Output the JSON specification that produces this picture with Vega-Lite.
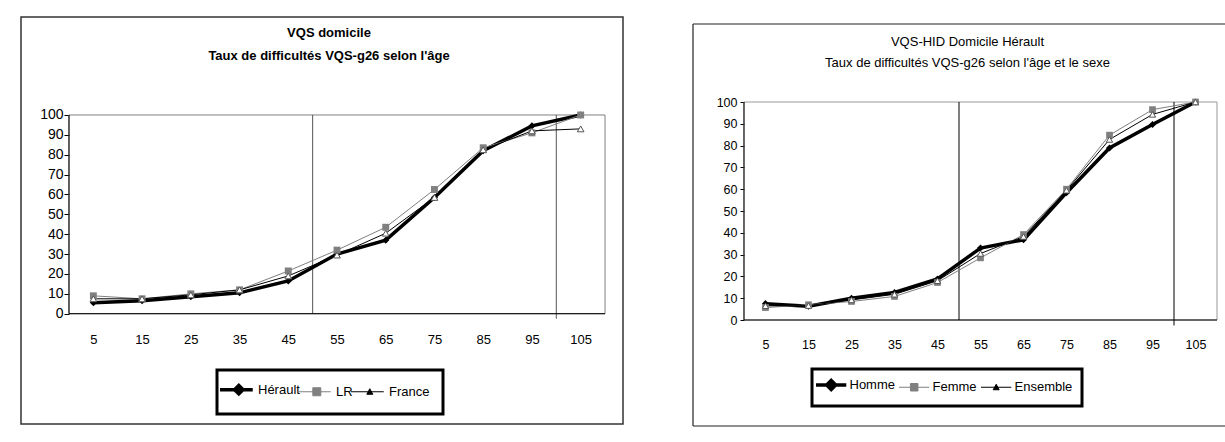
{
  "$schema": "https://vega.github.io/schema/vega-lite/v6.json",
  "background": "white",
  "padding": {"left": 20, "top": 16, "right": 0, "bottom": 0},
  "bounds": "flush",
  "spacing": 70,
  "resolve": {"scale": {"color": "independent"}, "legend": {"color": "independent"}},
  "datasets": {
    "gauche": [
      {"age": 5, "taux": 5.5, "serie": "Hérault"},
      {"age": 15, "taux": 6.5, "serie": "Hérault"},
      {"age": 25, "taux": 8.5, "serie": "Hérault"},
      {"age": 35, "taux": 10.5, "serie": "Hérault"},
      {"age": 45, "taux": 16.5, "serie": "Hérault"},
      {"age": 55, "taux": 30, "serie": "Hérault"},
      {"age": 65, "taux": 37, "serie": "Hérault"},
      {"age": 75, "taux": 58.5, "serie": "Hérault"},
      {"age": 85, "taux": 82, "serie": "Hérault"},
      {"age": 95, "taux": 94.5, "serie": "Hérault"},
      {"age": 105, "taux": 100, "serie": "Hérault"},
      {"age": 5, "taux": 9, "serie": "LR"},
      {"age": 15, "taux": 7.5, "serie": "LR"},
      {"age": 25, "taux": 10, "serie": "LR"},
      {"age": 35, "taux": 12, "serie": "LR"},
      {"age": 45, "taux": 21.5, "serie": "LR"},
      {"age": 55, "taux": 32, "serie": "LR"},
      {"age": 65, "taux": 43.5, "serie": "LR"},
      {"age": 75, "taux": 62.5, "serie": "LR"},
      {"age": 85, "taux": 83.5, "serie": "LR"},
      {"age": 95, "taux": 91, "serie": "LR"},
      {"age": 105, "taux": 100, "serie": "LR"},
      {"age": 5, "taux": 7.5, "serie": "France"},
      {"age": 15, "taux": 7.5, "serie": "France"},
      {"age": 25, "taux": 9.5, "serie": "France"},
      {"age": 35, "taux": 12, "serie": "France"},
      {"age": 45, "taux": 19, "serie": "France"},
      {"age": 55, "taux": 29.5, "serie": "France"},
      {"age": 65, "taux": 40.5, "serie": "France"},
      {"age": 75, "taux": 58.5, "serie": "France"},
      {"age": 85, "taux": 82.5, "serie": "France"},
      {"age": 95, "taux": 92, "serie": "France"},
      {"age": 105, "taux": 93, "serie": "France"}
    ],
    "droite": [
      {"age": 5, "taux": 7.5, "serie": "Homme"},
      {"age": 15, "taux": 6.3, "serie": "Homme"},
      {"age": 25, "taux": 10, "serie": "Homme"},
      {"age": 35, "taux": 12.6, "serie": "Homme"},
      {"age": 45, "taux": 18.8, "serie": "Homme"},
      {"age": 55, "taux": 33, "serie": "Homme"},
      {"age": 65, "taux": 36.8, "serie": "Homme"},
      {"age": 75, "taux": 58.4, "serie": "Homme"},
      {"age": 85, "taux": 78.9, "serie": "Homme"},
      {"age": 95, "taux": 89.7, "serie": "Homme"},
      {"age": 105, "taux": 100, "serie": "Homme"},
      {"age": 5, "taux": 5.7, "serie": "Femme"},
      {"age": 15, "taux": 7, "serie": "Femme"},
      {"age": 25, "taux": 8.5, "serie": "Femme"},
      {"age": 35, "taux": 10.8, "serie": "Femme"},
      {"age": 45, "taux": 17.2, "serie": "Femme"},
      {"age": 55, "taux": 28.5, "serie": "Femme"},
      {"age": 65, "taux": 39.2, "serie": "Femme"},
      {"age": 75, "taux": 60, "serie": "Femme"},
      {"age": 85, "taux": 84.8, "serie": "Femme"},
      {"age": 95, "taux": 96.5, "serie": "Femme"},
      {"age": 105, "taux": 100, "serie": "Femme"},
      {"age": 5, "taux": 6.5, "serie": "Ensemble"},
      {"age": 15, "taux": 6.6, "serie": "Ensemble"},
      {"age": 25, "taux": 9.2, "serie": "Ensemble"},
      {"age": 35, "taux": 11.8, "serie": "Ensemble"},
      {"age": 45, "taux": 18, "serie": "Ensemble"},
      {"age": 55, "taux": 30.5, "serie": "Ensemble"},
      {"age": 65, "taux": 38.3, "serie": "Ensemble"},
      {"age": 75, "taux": 59.5, "serie": "Ensemble"},
      {"age": 85, "taux": 82.8, "serie": "Ensemble"},
      {"age": 95, "taux": 94.3, "serie": "Ensemble"},
      {"age": 105, "taux": 100, "serie": "Ensemble"}
    ]
  },
  "hconcat": [
    {
      "width": 602,
      "height": 407,
      "data": {"name": "gauche"},
      "resolve": {"axis": {"x": "independent", "y": "independent"}},
      "title": {
        "text": ["VQS domicile", "Taux de difficultés VQS-g26 selon l'âge"],
        "anchor": "middle",
        "frame": "group",
        "offset": -47.2,
        "dx": 7,
        "lineHeight": 23.3,
        "font": "Liberation Sans, Arial, sans-serif",
        "fontSize": 13,
        "fontWeight": "bold",
        "color": "#000000"
      },
      "layer": [
        {
          "data": {"values": [{}]},
          "mark": {"type": "rect", "filled": false, "stroke": "#333333", "strokeWidth": 1.5},
          "encoding": {
            "x": {"datum": -9.85, "type": "quantitative", "scale": {"domain": [-9.85, 113.69], "nice": false, "zero": false}, "axis": null},
            "x2": {"datum": 113.69},
            "y": {"datum": -55.5, "type": "quantitative", "scale": {"domain": [-55.5, 149.3], "nice": false, "zero": false}, "axis": null},
            "y2": {"datum": 149.3}
          }
        },
        {
          "data": {"values": [{}]},
          "mark": {"type": "rect", "filled": false, "stroke": "#808080", "strokeWidth": 1},
          "encoding": {
            "x": {"datum": 0, "type": "quantitative", "scale": {"domain": [-9.85, 113.69], "nice": false, "zero": false}, "axis": null},
            "x2": {"datum": 110},
            "y": {"datum": 0, "type": "quantitative", "scale": {"domain": [-55.5, 149.3], "nice": false, "zero": false}, "axis": null},
            "y2": {"datum": 100}
          }
        },
        {
          "data": {"values": [{}]},
          "mark": {"type": "rule", "color": "#555555", "strokeWidth": 1},
          "encoding": {
            "x": {"datum": 50, "type": "quantitative", "scale": {"domain": [-9.85, 113.69], "nice": false, "zero": false}, "axis": null},
            "y": {"datum": 0, "type": "quantitative", "scale": {"domain": [-55.5, 149.3], "nice": false, "zero": false}, "axis": null},
            "y2": {"datum": 100}
          }
        },
        {
          "data": {"values": [{}]},
          "mark": {"type": "rule", "color": "#555555", "strokeWidth": 1},
          "encoding": {
            "x": {"datum": 100, "type": "quantitative", "scale": {"domain": [-9.85, 113.69], "nice": false, "zero": false}, "axis": null},
            "y": {"datum": -2.5, "type": "quantitative", "scale": {"domain": [-55.5, 149.3], "nice": false, "zero": false}, "axis": null},
            "y2": {"datum": 100}
          }
        },
        {
          "data": {"values": [{}]},
          "mark": {"type": "rule", "color": "#000000", "strokeWidth": 1},
          "encoding": {
            "x": {"datum": 0, "type": "quantitative", "scale": {"domain": [-9.85, 113.69], "nice": false, "zero": false}, "axis": null},
            "y": {"datum": 0, "type": "quantitative", "scale": {"domain": [-55.5, 149.3], "nice": false, "zero": false}, "axis": null},
            "y2": {"datum": 100}
          }
        },
        {
          "data": {"values": [{}]},
          "mark": {"type": "rule", "color": "#000000", "strokeWidth": 1},
          "encoding": {
            "x": {"datum": 0, "type": "quantitative", "scale": {"domain": [-9.85, 113.69], "nice": false, "zero": false}, "axis": null},
            "x2": {"datum": 110},
            "y": {"datum": 0, "type": "quantitative", "scale": {"domain": [-55.5, 149.3], "nice": false, "zero": false}, "axis": null}
          }
        },
        {
          "mark": {"type": "line"},
          "encoding": {
            "x": {
              "field": "age", "type": "quantitative",
              "scale": {"domain": [-9.85, 113.69], "nice": false, "zero": false},
              "axis": {
                "orient": "bottom",
                "values": [5, 15, 25, 35, 45, 55, 65, 75, 85, 95, 105],
                "offset": -110.3, "domain": false, "ticks": false, "grid": false,
                "labelPadding": 26, "labelBaseline": "middle", "labelFlush": false, "labelOverlap": false,
                "labelFont": "Liberation Sans, Arial, sans-serif", "labelFontSize": 13, "labelColor": "#000000",
                "title": null
              }
            },
            "y": {
              "field": "taux", "type": "quantitative",
              "scale": {"domain": [-55.5, 149.3], "nice": false, "zero": false},
              "axis": {
                "orient": "left",
                "values": [0, 10, 20, 30, 40, 50, 60, 70, 80, 90, 100],
                "offset": -48, "domain": false, "ticks": true, "tickSize": 5, "tickColor": "#000000", "grid": false,
                "labelPadding": 1, "labelFlush": false, "labelOverlap": false,
                "labelFont": "Liberation Sans, Arial, sans-serif", "labelFontSize": 14, "labelColor": "#000000",
                "title": null
              }
            },
            "color": {
              "field": "serie", "type": "nominal",
              "scale": {"domain": ["Hérault", "LR", "France"], "range": ["#000000", "#808080", "#000000"]},
              "legend": {
                "title": null,
                "orient": "none",
                "legendX": 196,
                "legendY": 353,
                "direction": "horizontal",
                "padding": 13,
                "strokeColor": "#000000",
                "fillColor": "#ffffff",
                "symbolSize": 100,
                "labelOffset": 15,
                "columnPadding": -4,
                "labelFont": "Liberation Sans, Arial, sans-serif",
                "labelFontSize": 13,
                "labelColor": "#000000",
                "encode": {
                  "symbols": {
                    "update": {
                      "shape": {"signal": "datum.value === 'Hérault' ? 'M-3.3,0H3.25M0.46,-0.85L1.31,0L0.46,0.85L-0.39,0Z' : datum.value === 'LR' ? 'M-3.3,0H3.25M-0.34,-0.8H1.26V0.8H-0.34Z' : 'M-3.3,0H3.25M0.46,-0.6L1.06,0.5H-0.14Z'"},
                      "fill": {"signal": "datum.value === 'LR' ? '#808080' : '#000000'"},
                      "stroke": {"signal": "datum.value === 'LR' ? '#808080' : '#000000'"},
                      "strokeWidth": {"signal": "datum.value === 'Hérault' ? 3.5 : 1"},
                      "size": {"value": 100}
                    }
                  }
                }
              }
            },
            "strokeWidth": {"condition": {"test": "datum.serie === 'Hérault'", "value": 3.5}, "value": 1}
          }
        },
        {
          "transform": [{"filter": "datum.serie === 'Hérault'"}],
          "mark": {"type": "point", "shape": "diamond", "filled": true, "color": "#000000", "size": 50, "opacity": 1},
          "encoding": {
            "x": {"field": "age", "type": "quantitative", "scale": {"domain": [-9.85, 113.69], "nice": false, "zero": false}, "axis": null},
            "y": {"field": "taux", "type": "quantitative", "scale": {"domain": [-55.5, 149.3], "nice": false, "zero": false}, "axis": null}
          }
        },
        {
          "transform": [{"filter": "datum.serie === 'LR'"}],
          "mark": {"type": "point", "shape": "square", "filled": true, "color": "#808080", "size": 48, "opacity": 1},
          "encoding": {
            "x": {"field": "age", "type": "quantitative", "scale": {"domain": [-9.85, 113.69], "nice": false, "zero": false}, "axis": null},
            "y": {"field": "taux", "type": "quantitative", "scale": {"domain": [-55.5, 149.3], "nice": false, "zero": false}, "axis": null}
          }
        },
        {
          "transform": [{"filter": "datum.serie === 'France'"}],
          "mark": {"type": "point", "shape": "triangle-up", "filled": true, "fill": "#ffffff", "stroke": "#555555", "strokeWidth": 1, "size": 45, "opacity": 1},
          "encoding": {
            "x": {"field": "age", "type": "quantitative", "scale": {"domain": [-9.85, 113.69], "nice": false, "zero": false}, "axis": null},
            "y": {"field": "taux", "type": "quantitative", "scale": {"domain": [-55.5, 149.3], "nice": false, "zero": false}, "axis": null}
          }
        }
      ]
    },
    {
      "width": 532,
      "height": 409,
      "data": {"name": "droite"},
      "resolve": {"axis": {"x": "independent", "y": "independent"}},
      "title": {
        "text": ["VQS-HID Domicile  Hérault", "Taux  de difficultés VQS-g26  selon l'âge et le sexe"],
        "anchor": "middle",
        "frame": "group",
        "offset": -52.7,
        "dx": 8.5,
        "lineHeight": 20.6,
        "font": "Liberation Sans, Arial, sans-serif",
        "fontSize": 13,
        "fontWeight": "normal",
        "color": "#000000"
      },
      "layer": [
        {
          "data": {"values": [{}]},
          "mark": {"type": "rule", "color": "#222222", "strokeWidth": 1.2},
          "encoding": {
            "x": {"datum": -11.86, "type": "quantitative", "scale": {"domain": [-11.86, 111.86], "nice": false, "zero": false}, "axis": null},
            "y": {"datum": -48.62, "type": "quantitative", "scale": {"domain": [-48.62, 138.99], "nice": false, "zero": false}, "axis": null},
            "y2": {"datum": 135.78}
          }
        },
        {
          "data": {"values": [{}]},
          "mark": {"type": "rule", "color": "#222222", "strokeWidth": 1.2},
          "encoding": {
            "x": {"datum": -11.86, "type": "quantitative", "scale": {"domain": [-11.86, 111.86], "nice": false, "zero": false}, "axis": null},
            "x2": {"datum": 111.86},
            "y": {"datum": 135.78, "type": "quantitative", "scale": {"domain": [-48.62, 138.99], "nice": false, "zero": false}, "axis": null}
          }
        },
        {
          "data": {"values": [{}]},
          "mark": {"type": "rule", "color": "#222222", "strokeWidth": 1.2},
          "encoding": {
            "x": {"datum": -11.86, "type": "quantitative", "scale": {"domain": [-11.86, 111.86], "nice": false, "zero": false}, "axis": null},
            "x2": {"datum": 111.86},
            "y": {"datum": -48.62, "type": "quantitative", "scale": {"domain": [-48.62, 138.99], "nice": false, "zero": false}, "axis": null}
          }
        },
        {
          "data": {"values": [{}]},
          "mark": {"type": "rect", "filled": false, "stroke": "#999999", "strokeWidth": 1},
          "encoding": {
            "x": {"datum": 0, "type": "quantitative", "scale": {"domain": [-11.86, 111.86], "nice": false, "zero": false}, "axis": null},
            "x2": {"datum": 110},
            "y": {"datum": 0, "type": "quantitative", "scale": {"domain": [-48.62, 138.99], "nice": false, "zero": false}, "axis": null},
            "y2": {"datum": 100}
          }
        },
        {
          "data": {"values": [{}]},
          "mark": {"type": "rule", "color": "#000000", "strokeWidth": 1},
          "encoding": {
            "x": {"datum": 50, "type": "quantitative", "scale": {"domain": [-11.86, 111.86], "nice": false, "zero": false}, "axis": null},
            "y": {"datum": 0, "type": "quantitative", "scale": {"domain": [-48.62, 138.99], "nice": false, "zero": false}, "axis": null},
            "y2": {"datum": 100}
          }
        },
        {
          "data": {"values": [{}]},
          "mark": {"type": "rule", "color": "#000000", "strokeWidth": 1},
          "encoding": {
            "x": {"datum": 100, "type": "quantitative", "scale": {"domain": [-11.86, 111.86], "nice": false, "zero": false}, "axis": null},
            "y": {"datum": -2.5, "type": "quantitative", "scale": {"domain": [-48.62, 138.99], "nice": false, "zero": false}, "axis": null},
            "y2": {"datum": 100}
          }
        },
        {
          "data": {"values": [{}]},
          "mark": {"type": "rule", "color": "#000000", "strokeWidth": 1},
          "encoding": {
            "x": {"datum": 0, "type": "quantitative", "scale": {"domain": [-11.86, 111.86], "nice": false, "zero": false}, "axis": null},
            "y": {"datum": 0, "type": "quantitative", "scale": {"domain": [-48.62, 138.99], "nice": false, "zero": false}, "axis": null},
            "y2": {"datum": 100}
          }
        },
        {
          "data": {"values": [{}]},
          "mark": {"type": "rule", "color": "#000000", "strokeWidth": 1},
          "encoding": {
            "x": {"datum": 0, "type": "quantitative", "scale": {"domain": [-11.86, 111.86], "nice": false, "zero": false}, "axis": null},
            "x2": {"datum": 110},
            "y": {"datum": 0, "type": "quantitative", "scale": {"domain": [-48.62, 138.99], "nice": false, "zero": false}, "axis": null}
          }
        },
        {
          "mark": {"type": "line"},
          "encoding": {
            "x": {
              "field": "age", "type": "quantitative",
              "scale": {"domain": [-11.86, 111.86], "nice": false, "zero": false},
              "axis": {
                "orient": "bottom",
                "values": [5, 15, 25, 35, 45, 55, 65, 75, 85, 95, 105],
                "offset": -106, "domain": false, "ticks": false, "grid": false,
                "labelPadding": 24, "labelBaseline": "middle", "labelFlush": false, "labelOverlap": false,
                "labelFont": "Liberation Sans, Arial, sans-serif", "labelFontSize": 12.5, "labelColor": "#000000",
                "title": null
              }
            },
            "y": {
              "field": "taux", "type": "quantitative",
              "scale": {"domain": [-48.62, 138.99], "nice": false, "zero": false},
              "axis": {
                "orient": "left",
                "values": [0, 10, 20, 30, 40, 50, 60, 70, 80, 90, 100],
                "offset": -51, "domain": false, "ticks": true, "tickSize": 4, "tickColor": "#000000", "grid": false,
                "labelPadding": 3, "labelFlush": false, "labelOverlap": false,
                "labelFont": "Liberation Sans, Arial, sans-serif", "labelFontSize": 12.5, "labelColor": "#000000",
                "title": null
              }
            },
            "color": {
              "field": "serie", "type": "nominal",
              "scale": {"domain": ["Homme", "Femme", "Ensemble"], "range": ["#000000", "#808080", "#000000"]},
              "legend": {
                "title": null,
                "orient": "none",
                "legendX": 119,
                "legendY": 352,
                "direction": "horizontal",
                "padding": 9.5,
                "strokeColor": "#000000",
                "fillColor": "#ffffff",
                "symbolSize": 100,
                "labelOffset": 15,
                "columnPadding": 1,
                "labelFont": "Liberation Sans, Arial, sans-serif",
                "labelFontSize": 13,
                "labelColor": "#000000",
                "encode": {
                  "symbols": {
                    "update": {
                      "shape": {"signal": "datum.value === 'Homme' ? 'M-2.4,0H3.66M0.64,-0.9L1.54,0L0.64,0.9L-0.26,0Z' : datum.value === 'Femme' ? 'M-2.4,0H3.66M-0.11,-0.75H1.39V0.75H-0.11Z' : 'M-2.4,0H3.66M0.64,-0.6L1.24,0.5H0.04Z'"},
                      "fill": {"signal": "datum.value === 'Femme' ? '#808080' : '#000000'"},
                      "stroke": {"signal": "datum.value === 'Femme' ? '#808080' : '#000000'"},
                      "strokeWidth": {"signal": "datum.value === 'Homme' ? 3.5 : 1"},
                      "size": {"value": 100}
                    }
                  }
                }
              }
            },
            "strokeWidth": {"condition": {"test": "datum.serie === 'Homme'", "value": 3.5}, "value": 1}
          }
        },
        {
          "transform": [{"filter": "datum.serie === 'Homme'"}],
          "mark": {"type": "point", "shape": "diamond", "filled": true, "color": "#000000", "size": 50, "opacity": 1},
          "encoding": {
            "x": {"field": "age", "type": "quantitative", "scale": {"domain": [-11.86, 111.86], "nice": false, "zero": false}, "axis": null},
            "y": {"field": "taux", "type": "quantitative", "scale": {"domain": [-48.62, 138.99], "nice": false, "zero": false}, "axis": null}
          }
        },
        {
          "transform": [{"filter": "datum.serie === 'Femme'"}],
          "mark": {"type": "point", "shape": "square", "filled": true, "color": "#808080", "size": 45, "opacity": 1},
          "encoding": {
            "x": {"field": "age", "type": "quantitative", "scale": {"domain": [-11.86, 111.86], "nice": false, "zero": false}, "axis": null},
            "y": {"field": "taux", "type": "quantitative", "scale": {"domain": [-48.62, 138.99], "nice": false, "zero": false}, "axis": null}
          }
        },
        {
          "transform": [{"filter": "datum.serie === 'Ensemble'"}],
          "mark": {"type": "point", "shape": "triangle-up", "filled": true, "fill": "#ffffff", "stroke": "#555555", "strokeWidth": 1, "size": 40, "opacity": 1},
          "encoding": {
            "x": {"field": "age", "type": "quantitative", "scale": {"domain": [-11.86, 111.86], "nice": false, "zero": false}, "axis": null},
            "y": {"field": "taux", "type": "quantitative", "scale": {"domain": [-48.62, 138.99], "nice": false, "zero": false}, "axis": null}
          }
        }
      ]
    }
  ],
  "config": {
    "view": {"stroke": null},
    "legend": {"strokeWidth": 3},
    "axis": {"labelColor": "#000000"}
  }
}
